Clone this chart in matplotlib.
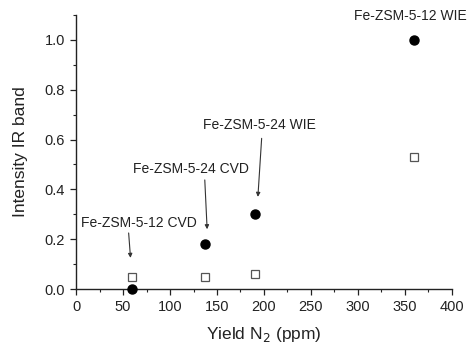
import numpy as np
from matplotlib import pyplot as plt
from matplotlib.ticker import MultipleLocator

plt.rcParams['font.family'] = ['Liberation Sans', 'DejaVu Sans']

# filled circles: intensity IR band
yield_circ = [60, 137, 190, 360]
ir_circ = [0.0, 0.18, 0.30, 1.0]
# open squares
yield_sq = [60, 137, 190, 360]
ir_sq = [0.05, 0.05, 0.06, 0.53]

labels = ["Fe-ZSM-5-12 CVD", "Fe-ZSM-5-24 CVD", "Fe-ZSM-5-24 WIE", "Fe-ZSM-5-12 WIE"]
label_pos = [(67, 0.265), (122, 0.48), (195, 0.66), (356, 1.097)]
arrow_from = [(56, 0.225), (137, 0.438), (197.5, 0.605), None]
arrow_to = [(58, 0.125), (139.5, 0.24), (193.5, 0.37), None]

fig = plt.figure(figsize=(4.68, 3.45), dpi=100)
ax = fig.add_axes([0.1624, 0.1623, 0.8034, 0.794])

ax.plot(yield_circ, ir_circ, 'o', color='black', markersize=6.5, clip_on=False, zorder=3)
ax.plot(yield_sq, ir_sq, 's', mfc='white', mec='#555555', mew=0.9, markersize=5.8, clip_on=False, zorder=3)

for lab, pos, a, b in zip(labels, label_pos, arrow_from, arrow_to):
    ax.text(pos[0], pos[1], lab, ha='center', va='center', fontsize=10, color='#222222')
    if a is not None:
        ax.annotate('', xy=b, xytext=a,
                    arrowprops=dict(arrowstyle='-|>', color='#333333', lw=0.8,
                                    mutation_scale=6, shrinkA=0, shrinkB=0))

ax.set_xlim(0, 400)
ax.set_ylim(0, 1.1)
ax.spines['top'].set_visible(False)
ax.spines['right'].set_visible(False)
for s in ['left', 'bottom']:
    ax.spines[s].set_color('#222222')
    ax.spines[s].set_linewidth(1.0)

ax.xaxis.set_major_locator(MultipleLocator(50))
ax.xaxis.set_minor_locator(MultipleLocator(25))
ax.set_yticks([0.0, 0.2, 0.4, 0.6, 0.8, 1.0])
ax.yaxis.set_minor_locator(MultipleLocator(0.1))
ax.tick_params(which='major', direction='out', length=4, width=0.9, labelsize=10.5,
               colors='#222222', pad=4)
ax.tick_params(which='minor', direction='out', length=2, width=0.8, colors='#222222')

ax.set_xlabel('Yield N$_2$ (ppm)', fontsize=12.5, color='#222222', labelpad=8)
ax.set_ylabel('Intensity IR band', fontsize=12.5, color='#222222', labelpad=12)

plt.savefig('out.png', dpi=100)
